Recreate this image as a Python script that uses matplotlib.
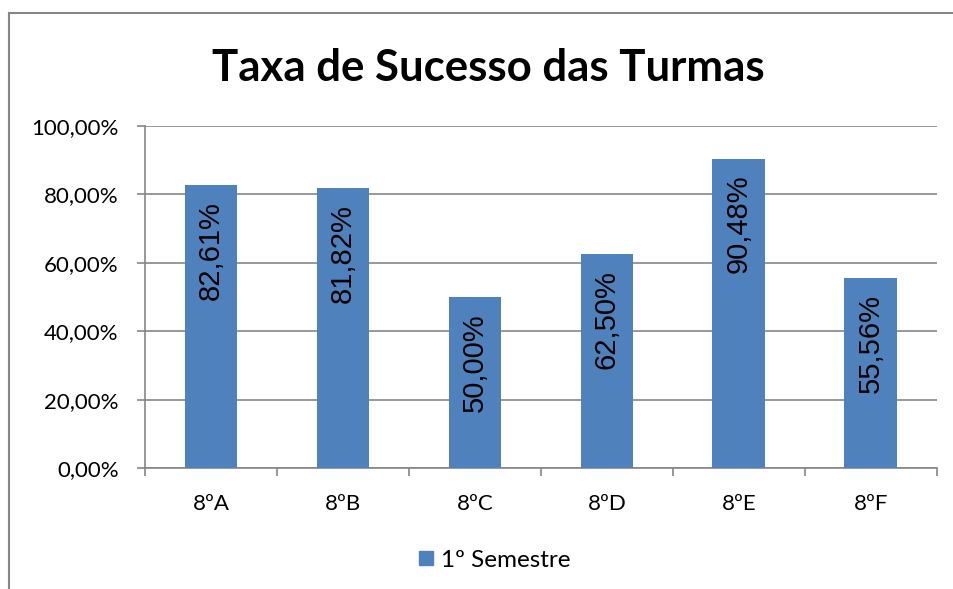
import matplotlib.pyplot as plt
from matplotlib.lines import Line2D

# data
turmas = ['8ºA', '8ºB', '8ºC', '8ºD', '8ºE', '8ºF']
sucesso = [82.61, 81.82, 50.00, 62.50, 90.48, 55.56]
rotulos = ['82,61%', '81,82%', '50,00%', '62,50%', '90,48%', '55,56%']
y_ticks = [0, 20, 40, 60, 80, 100]
y_labels = ['0,00%', '20,00%', '40,00%', '60,00%', '80,00%', '100,00%']
serie = '1º Semestre'

azul = '#4F81BD'
cinza = '#868686'

fig = plt.figure(figsize=(9.54, 5.89), dpi=100)
ax = fig.add_axes([0.152, 0.2054, 0.830, 0.5807])

x = range(len(turmas))
ax.bar(x, sucesso, width=0.4, color=azul, zorder=3, label=serie)

for xi, v, r in zip(x, sucesso, rotulos):
    ax.annotate(r, (xi, v), xytext=(0, -16), textcoords='offset pixels',
                rotation=90, ha='center', va='top', fontsize=21,
                family='Liberation Sans', zorder=4)

ax.set_xlim(-0.5, len(turmas) - 0.5)
ax.set_ylim(0, 100)
ax.set_yticks(y_ticks)
ax.set_yticklabels(y_labels, family='Lato', fontsize=16)
ax.set_xticks(list(x))
ax.set_xticklabels(turmas, family='Lato', fontsize=16)
ax.set_xticks([i - 0.5 for i in range(len(turmas) + 1)], minor=True)
ax.tick_params(axis='x', which='major', length=0, pad=19)
ax.tick_params(axis='x', which='minor', length=6, width=1.2, color=cinza)
ax.tick_params(axis='y', length=6, width=1.2, color=cinza, pad=13)

ax.grid(axis='y', color=cinza, linewidth=1.2, zorder=0)
for s in ['top', 'right']:
    ax.spines[s].set_visible(False)
for s in ['left', 'bottom']:
    ax.spines[s].set_color(cinza)
    ax.spines[s].set_linewidth(1.2)

fig.text(0.512, 0.884, 'Taxa de Sucesso das Turmas', ha='center', va='center',
         fontsize=31.5, fontweight='bold', family='Lato')

handle = Line2D([], [], marker='s', linestyle='none', markersize=10,
                markerfacecolor=azul, markeredgecolor=azul)
fig.legend([handle], [serie], loc='center', bbox_to_anchor=(0.516, 0.049),
           frameon=False, prop={'family': 'Lato', 'size': 17.5},
           handletextpad=0.1, handlelength=1.0)

# chart frame
fig.add_artist(Line2D([0.0094, 0.0094], [0, 0.978], color=cinza, linewidth=1.5,
                      transform=fig.transFigure))
fig.add_artist(Line2D([0.0094, 1.0], [0.978, 0.978], color=cinza, linewidth=1.5,
                      transform=fig.transFigure))

fig.savefig('out.png', dpi=100)
